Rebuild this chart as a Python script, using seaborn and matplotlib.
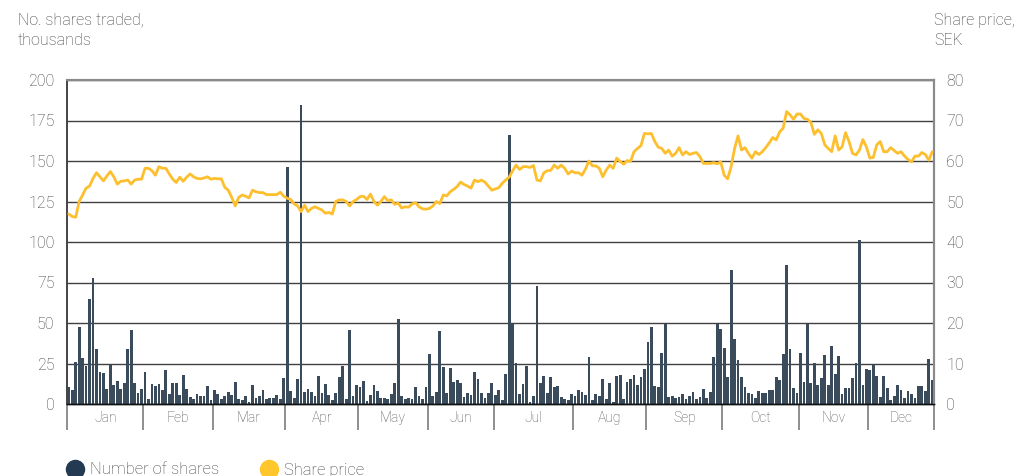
import numpy as np
import pandas as pd
import seaborn as sns
import matplotlib.pyplot as plt
from matplotlib.lines import Line2D

# trading days per month and month names
months = ["Jan", "Feb", "Mar", "Apr", "May", "Jun", "Jul", "Aug", "Sep", "Oct", "Nov", "Dec"]
days_in_month = [22, 20, 21, 21, 20, 19, 23, 21, 22, 22, 20, 19]

# number of shares traded per day, thousands
volume = [
    10.7, 8.6, 25.7, 47.5, 28.4, 23.7, 65.0, 77.6, 34.0, 19.8, 19.0, 9.3, 24.0, 11.7, 14.0, 9.0,
    13.0, 34.0, 45.7, 13.0, 6.6, 9.3, 20.0, 3.0, 12.3, 11.3, 12.3, 8.6, 21.0, 6.0, 13.0, 13.0,
    5.8, 17.7, 9.3, 4.5, 3.0, 6.2, 5.0, 4.7, 11.0, 2.5, 8.6, 6.0, 3.0, 5.0, 7.4, 5.5,
    13.6, 3.0, 2.5, 5.0, 1.0, 11.7, 4.0, 5.0, 8.6, 3.0, 3.7, 3.7, 5.5, 3.0, 16.0, 146.0,
    8.0, 3.7, 15.4, 184.5, 7.4, 9.3, 7.4, 5.0, 17.3, 6.8, 12.3, 5.5, 2.5, 6.8, 16.7, 23.7,
    3.0, 45.7, 5.0, 11.7, 10.5, 14.2, 2.0, 5.5, 11.7, 8.0, 4.0, 3.7, 3.0, 6.2, 13.0, 52.5,
    5.0, 3.0, 3.7, 3.0, 10.5, 5.0, 3.0, 10.5, 30.9, 5.0, 7.4, 45.0, 22.8, 6.8, 22.2, 13.6,
    14.8, 13.0, 4.3, 6.8, 5.5, 19.8, 15.4, 6.8, 3.7, 6.8, 13.0, 5.5, 8.6, 2.5, 18.5, 166.0,
    49.4, 25.3, 6.2, 12.3, 23.5, 1.2, 5.0, 72.8, 13.0, 17.3, 6.8, 16.7, 10.5, 11.0, 4.3, 3.0,
    2.5, 6.2, 5.0, 8.6, 7.4, 5.5, 29.0, 2.5, 6.2, 5.0, 15.4, 3.0, 13.0, 1.2, 17.3, 17.9,
    3.0, 13.6, 15.4, 17.9, 11.7, 16.7, 21.6, 38.3, 47.5, 11.0, 10.5, 31.5, 49.4, 4.3, 5.0, 3.7,
    4.3, 6.2, 3.0, 5.0, 7.4, 3.0, 4.3, 9.3, 3.7, 7.4, 29.0, 49.4, 46.3, 34.6, 16.7, 82.7,
    40.0, 27.0, 16.7, 10.5, 6.8, 6.2, 3.7, 8.0, 6.8, 6.8, 8.6, 8.6, 16.7, 14.8, 30.9, 85.8,
    34.0, 9.9, 6.8, 31.5, 13.6, 49.4, 13.0, 25.3, 11.7, 16.0, 30.2, 11.7, 35.8, 18.5, 29.6, 6.2,
    9.9, 9.9, 16.0, 25.3, 101.2, 11.7, 21.6, 21.0, 24.0, 17.3, 4.3, 17.3, 9.9, 2.5, 5.0, 11.7,
    8.6, 3.7, 8.0, 6.2, 3.7, 11.0, 11.0, 8.0, 27.8, 14.8,
]

# closing share price, SEK
price = [
    46.9, 46.3, 46.1, 50.0, 51.6, 53.3, 53.8, 55.7, 57.1, 56.1, 55.1, 56.3, 57.4, 56.1, 54.3, 55.0,
    55.1, 55.3, 54.3, 55.3, 55.5, 55.5, 58.2, 58.2, 57.6, 56.5, 58.6, 58.2, 58.2, 56.8, 55.5, 54.7,
    56.0, 55.0, 56.0, 56.8, 56.1, 55.7, 55.6, 55.8, 56.1, 55.5, 55.7, 55.6, 55.6, 53.5, 52.8, 51.0,
    48.9, 51.0, 51.6, 51.3, 50.9, 52.8, 52.4, 52.2, 52.2, 51.7, 51.7, 51.7, 51.7, 52.3, 51.3, 50.8,
    50.5, 49.4, 48.9, 47.5, 49.1, 47.5, 48.3, 48.7, 48.3, 47.9, 47.1, 47.3, 46.9, 50.0, 50.4, 50.4,
    50.0, 48.9, 50.0, 50.5, 51.2, 51.3, 50.5, 51.8, 50.0, 49.1, 50.0, 51.2, 50.2, 50.4, 49.3, 49.6,
    48.4, 48.7, 48.6, 49.4, 49.7, 48.7, 48.2, 48.1, 48.3, 48.9, 50.0, 49.5, 51.6, 51.4, 52.4, 53.0,
    53.7, 54.8, 54.2, 53.8, 53.3, 55.3, 54.9, 55.3, 54.8, 53.8, 52.8, 53.1, 53.4, 54.5, 55.3, 56.0,
    57.6, 59.0, 57.9, 58.6, 58.6, 58.4, 58.9, 55.3, 55.1, 57.1, 57.6, 57.7, 59.0, 58.2, 59.0, 58.2,
    56.8, 57.5, 57.1, 57.1, 56.5, 58.0, 60.0, 58.8, 58.8, 58.2, 56.1, 57.8, 59.0, 58.2, 60.7, 59.9,
    59.2, 60.1, 59.9, 62.3, 63.1, 63.8, 66.8, 66.7, 66.8, 64.8, 63.4, 63.1, 61.9, 62.7, 61.2, 61.9,
    63.3, 61.5, 62.3, 61.6, 61.9, 62.1, 61.1, 59.4, 59.4, 59.4, 59.6, 59.3, 59.8, 56.5, 55.6, 58.6,
    63.1, 66.2, 62.7, 63.3, 61.9, 60.7, 62.3, 61.6, 62.3, 63.3, 64.5, 65.8, 65.2, 67.2, 68.1, 72.2,
    71.4, 70.3, 71.6, 71.6, 70.5, 70.3, 69.5, 66.6, 67.7, 66.8, 64.0, 63.1, 62.3, 66.2, 62.7, 63.5,
    67.0, 64.8, 61.9, 61.5, 62.7, 65.3, 63.5, 60.7, 60.9, 64.0, 64.8, 62.3, 62.3, 63.3, 62.6, 61.9,
    62.3, 61.2, 60.4, 59.8, 61.2, 61.2, 62.1, 61.6, 60.2, 62.3,
]

bar_color = "#3a4b5c"
line_color = "#fdbf2d"
text_color = "#3c3c3c"

df = pd.DataFrame({"day": np.arange(len(volume)), "volume": volume, "price": price})

sns.set_theme(style="white")
plt.rcParams["font.family"] = ["Roboto", "DejaVu Sans"]
plt.rcParams["font.weight"] = "light"

W, H = 1018, 476
fig = plt.figure(figsize=(W / 100, H / 100), dpi=100)
ax = fig.add_axes([67 / W, 1 - 404 / H, 867 / W, 324 / H])

sns.barplot(data=df, x="day", y="volume", native_scale=True, color=bar_color,
            saturation=1, width=0.8, errorbar=None, linewidth=0, edgecolor="none",
            ax=ax, zorder=2)

ax2 = ax.twinx()
sns.lineplot(data=df, x="day", y="price", color=line_color, lw=2.0, ax=ax2, zorder=3)

n = len(volume)
ax.set_xlim(-0.5, n - 0.5)
ax.set_ylim(0, 200)
ax2.set_ylim(0, 80)

# month dividers and labels
bounds = np.concatenate([[0], np.cumsum(days_in_month)]) - 0.5
centers = (bounds[:-1] + bounds[1:]) / 2
ax.set_xticks(bounds)
ax.set_xticklabels([""] * len(bounds))
ax.set_xticks(centers, minor=True)
ax.set_xticklabels(months, minor=True)
ax.tick_params(axis="x", which="major", direction="out", length=19, width=1.1,
               color="#707070", bottom=True)
ax.tick_params(axis="x", which="minor", length=0, pad=5, labelsize=10, labelcolor="#555555")

ax.set_yticks(np.arange(0, 201, 25))
ax2.set_yticks(np.arange(0, 81, 10))
ax.tick_params(axis="y", length=0, pad=9, labelsize=11.5, labelcolor=text_color)
ax2.tick_params(axis="y", length=0, pad=9, labelsize=11.5, labelcolor=text_color)

ax.set_xlabel("")
ax.set_ylabel("")
ax2.set_xlabel("")
ax2.set_ylabel("")

ax.yaxis.grid(True, color="#404040", lw=1.0)
ax.set_axisbelow(True)
ax2.grid(False)

for a in (ax, ax2):
    a.spines["left"].set_color("#444444")
    a.spines["top"].set_color("#8a8a8a")
    a.spines["right"].set_color("#8a8a8a")
    a.spines["bottom"].set_color("#111111")
    a.spines["right"].set_linewidth(1.5)
    a.spines["top"].set_linewidth(1.5)
    a.spines["left"].set_linewidth(1.2)
    a.spines["bottom"].set_linewidth(1.0)

fig.text(18 / W, 1 - 13 / H, "No. shares traded,\nthousands", ha="left", va="top",
         fontsize=11.5, color=text_color, linespacing=1.45)
fig.text(934 / W, 1 - 13 / H, "Share price,\nSEK", ha="left", va="top",
         fontsize=11.5, color=text_color, linespacing=1.45)

handles = [
    Line2D([], [], marker="o", ls="", markersize=13, color="#233a52"),
    Line2D([], [], marker="o", ls="", markersize=13, color="#ffc72c"),
]
fig.legend(handles, ["Number of shares", "Share price"], loc="center left",
           bbox_to_anchor=(50 / W, 1 - 470 / H), ncol=2, frameon=False,
           handletextpad=0.3, columnspacing=2.4, handlelength=1.2,
           prop={"size": 12, "weight": "light"}, labelcolor="#444444")

fig.savefig("out.png", dpi=100)
